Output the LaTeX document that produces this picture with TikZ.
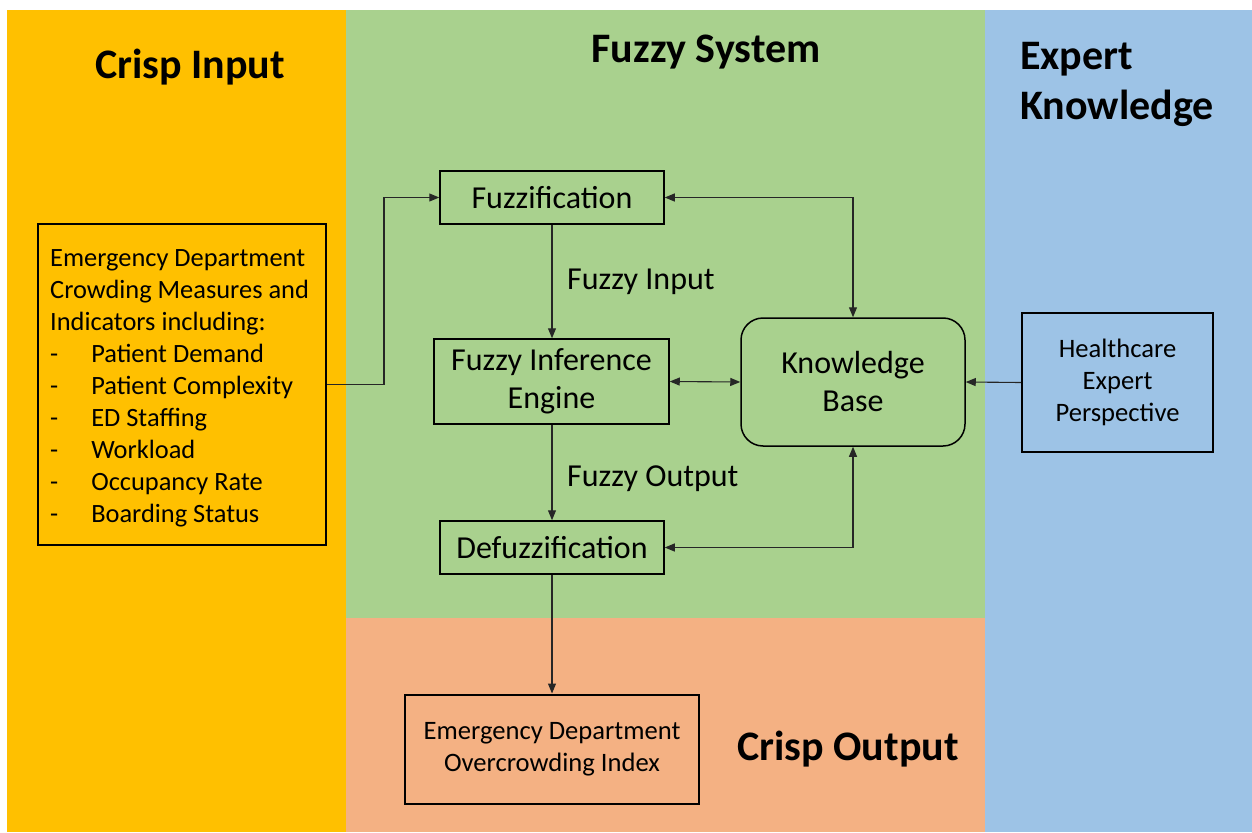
\documentclass[tikz,border=0pt]{standalone}
\usepackage{fontspec}
\setmainfont{Carlito}
\usetikzlibrary{arrows.meta}

\definecolor{inputbg}{HTML}{FFC000}
\definecolor{fuzzybg}{HTML}{A9D18E}
\definecolor{outputbg}{HTML}{F4B183}
\definecolor{expertbg}{HTML}{9DC3E6}
\definecolor{linecol}{HTML}{262626}

\begin{document}
\begin{tikzpicture}[x=1pt,y=-1pt,
  title/.style={font=\fontsize{42}{50}\selectfont\bfseries, inner sep=0pt},
  stagebox/.style={draw=black, line width=1.5pt, inner sep=0pt, align=center,
    font=\fontsize{32}{38}\selectfont},
  sidebox/.style={draw=black, line width=2pt, inner sep=0pt, align=center,
    font=\fontsize{26.6}{32.3}\selectfont},
  flowlabel/.style={font=\fontsize{32}{38}\selectfont, inner sep=0pt, anchor=west},
  conn/.style={draw=linecol, line width=1.1pt},
  tip/.style={-{Triangle[length=10pt,width=8pt]}},
  tips/.style={{Triangle[length=10pt,width=8pt]}-{Triangle[length=10pt,width=8pt]}}
]
% page and coloured panels
\fill[white] (0,0) rectangle (1252,832);
\fill[inputbg]  (7,10)   rectangle (346,832);
\fill[fuzzybg]  (346,10) rectangle (985,618);
\fill[outputbg] (346,618) rectangle (985,832);
\fill[expertbg] (985,10) rectangle (1252,832);

% panel titles
\node[title] (tin)  at (190,67)  {Crisp Input};
\node[title] (tfs)  at (706,52)  {Fuzzy System};
\node[title, anchor=west, align=left] (tek) at (1020,84) {Expert\\Knowledge};
\node[title] (tout) at (848,749) {Crisp Output};

% crisp input measures
\node[sidebox, minimum width=288pt, minimum height=321pt] (inbox) at (182,384.5) {};
\node[font=\fontsize{26.4}{32}\selectfont, align=left, inner sep=0pt,
      anchor=west] (intext) at (50,388)
  {Emergency Department\\
   Crowding Measures and\\
   Indicators including:\\
   -\hspace{33pt}Patient Demand\\
   -\hspace{33pt}Patient Complexity\\
   -\hspace{33pt}ED Staffing\\
   -\hspace{33pt}Workload\\
   -\hspace{33pt}Occupancy Rate\\
   -\hspace{33pt}Boarding Status};

% fuzzy system stages
\node[stagebox, minimum width=224pt, minimum height=53pt] (fuzz) at (552,197.5) {Fuzzification};
\node[stagebox, minimum width=235pt, minimum height=85pt] (fie) at (551.5,381.5) {Fuzzy Inference\\Engine};
\node[stagebox, minimum width=224pt, minimum height=53pt] (defuzz) at (552,547.5) {Defuzzification};
\node[stagebox, rounded corners=22pt, minimum width=224pt, minimum height=128pt] (kb) at (853,382) {Knowledge\\Base};

% expert knowledge source
\node[sidebox, minimum width=191pt, minimum height=139pt] (hc) at (1117.5,382.5) {Healthcare\\Expert\\Perspective};

% crisp output
\node[sidebox, minimum width=294pt, minimum height=109pt] (outbox) at (552,749) {Emergency Department\\Overcrowding Index};

% flow labels
\node[flowlabel] (lfi) at (567,282) {Fuzzy Input};
\node[flowlabel] (lfo) at (567,479) {Fuzzy Output};

% connectors
\draw[conn, tip] (inbox.east) -- ++(57,0) |- (fuzz.west);
\draw[conn, tip] (fuzz.south) -- (fuzz.south |- fie.north);
\draw[conn, tip] (fie.south -| fuzz.south) -- (defuzz.north);
\draw[conn, tip] (defuzz.south) -- (outbox.north);
\draw[conn, tips] (fuzz.east) -| (kb.north);
\draw[conn, tips] (fie.east) -- (kb.west);
\draw[conn, tips] (kb.south) |- (defuzz.east);
\draw[conn, tip] (hc.west) -- (kb.east);
\end{tikzpicture}
\end{document}
